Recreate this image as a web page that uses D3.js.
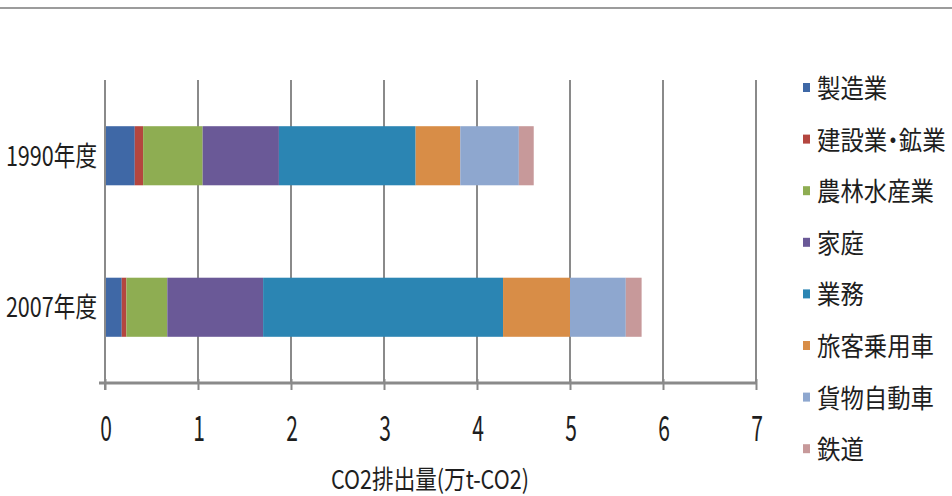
<!DOCTYPE html>
<html>
<head>
<meta charset="utf-8">
<script src="https://cdn.jsdelivr.net/npm/d3@7"></script>
<style>
  body { margin: 0; background: #fff; }
  text { font-family: "Noto Sans CJK JP", "Noto Sans", sans-serif; fill: #1e1e1e; }
</style>
</head>
<body>
<div class="chart"></div>
<script>
const width = 952;
const height = 496;

// categories (top to bottom)
const years = ["1990年度", "2007年度"];
const sectors = ["製造業", "建設業・鉱業", "農林水産業", "家庭", "業務", "旅客乗用車", "貨物自動車", "鉄道"];
const colors = ["#3f68a6", "#b4463f", "#8ead52", "#6a5997", "#2b85b3", "#d88d47", "#8ea7cf", "#c7999a"];

// CO2 emissions (万t-CO2) per sector
const values1990 = [0.32, 0.09, 0.64, 0.82, 1.47, 0.48, 0.63, 0.16];
const values2007 = [0.18, 0.05, 0.44, 1.03, 2.58, 0.72, 0.60, 0.17];

const xTicks = [0, 1, 2, 3, 4, 5, 6, 7];
const xTitle = "CO2排出量(万t-CO2)";

const rows = [values1990, values2007].map((vals, i) => {
  const row = { year: years[i] };
  sectors.forEach((s, j) => row[s] = vals[j]);
  return row;
});

const stacked = d3.stack().keys(sectors)(rows);

const plot = { left: 105, right: 756, top: 80, bottom: 383 };

const x = d3.scaleLinear()
  .domain([0, 7])
  .range([plot.left, plot.right]);

const y = d3.scaleBand()
  .domain(years)
  .range([plot.top, plot.bottom])
  .paddingInner(0.61)
  .paddingOuter(0.305);

const color = d3.scaleOrdinal().domain(sectors).range(colors);

const svg = d3.select(".chart")
  .append("svg")
  .attr("width", width)
  .attr("height", height);

// frame line on top
svg.append("line")
  .attr("x1", 0).attr("x2", width)
  .attr("y1", 8).attr("y2", 8)
  .attr("stroke", "#9c9c9c")
  .attr("stroke-width", 2);

// gridlines
svg.append("g")
  .selectAll("line")
  .data(xTicks.slice(1))
  .join("line")
  .attr("x1", d => x(d)).attr("x2", d => x(d))
  .attr("y1", plot.top).attr("y2", plot.bottom)
  .attr("stroke", "#8a8a8a")
  .attr("stroke-width", 2);

// bars
svg.append("g")
  .selectAll("g")
  .data(stacked)
  .join("g")
  .attr("fill", d => color(d.key))
  .selectAll("rect")
  .data(d => d)
  .join("rect")
  .attr("x", d => x(d[0]))
  .attr("y", d => y(d.data.year))
  .attr("width", d => x(d[1]) - x(d[0]))
  .attr("height", y.bandwidth());

// x axis
const xAxis = svg.append("g")
  .attr("transform", `translate(0,${plot.bottom})`)
  .call(d3.axisBottom(x).tickValues(xTicks).tickSize(7).tickFormat(""));
xAxis.select(".domain").remove();
xAxis.selectAll(".tick line")
  .attr("y1", -4)
  .attr("stroke", "#888")
  .attr("stroke-width", 2);

svg.append("line")
  .attr("x1", plot.left - 6).attr("x2", plot.right + 1)
  .attr("y1", plot.bottom).attr("y2", plot.bottom)
  .attr("stroke", "#8a8a8a")
  .attr("stroke-width", 3);

// y axis line
svg.append("line")
  .attr("x1", plot.left).attr("x2", plot.left)
  .attr("y1", plot.top).attr("y2", plot.bottom + 7)
  .attr("stroke", "#8a8a8a")
  .attr("stroke-width", 2);

// tick labels (narrow tall digits)
svg.append("g")
  .selectAll("text")
  .data(xTicks)
  .join("text")
  .attr("transform", d => `translate(${x(d) + 1},441) scale(0.6,1)`)
  .attr("text-anchor", "middle")
  .attr("font-size", 35)
  .text(d => d);

// category labels
svg.append("g")
  .selectAll("text")
  .data(years)
  .join("text")
  .attr("transform", d => `translate(97,${y(d) + y.bandwidth() / 2 + 10}) scale(0.8,1)`)
  .attr("text-anchor", "end")
  .attr("font-size", 27)
  .text(d => d);

// axis title
svg.append("text")
  .attr("transform", "translate(430,489) scale(0.83,1)")
  .attr("text-anchor", "middle")
  .attr("font-size", 26)
  .style("font-feature-settings", "'palt'")
  .text(xTitle);

// legend
const legend = svg.append("g")
  .selectAll("g")
  .data(sectors)
  .join("g")
  .attr("transform", (d, i) => `translate(803,${88 + i * 51.6})`);

legend.append("rect")
  .attr("x", 0).attr("y", -5)
  .attr("width", 7).attr("height", 9)
  .attr("fill", d => color(d));

legend.append("text")
  .attr("transform", "translate(14,10) scale(0.9,1)")
  .attr("font-size", 26)
  .style("font-feature-settings", "'palt'")
  .text(d => d);
</script>
</body>
</html>
